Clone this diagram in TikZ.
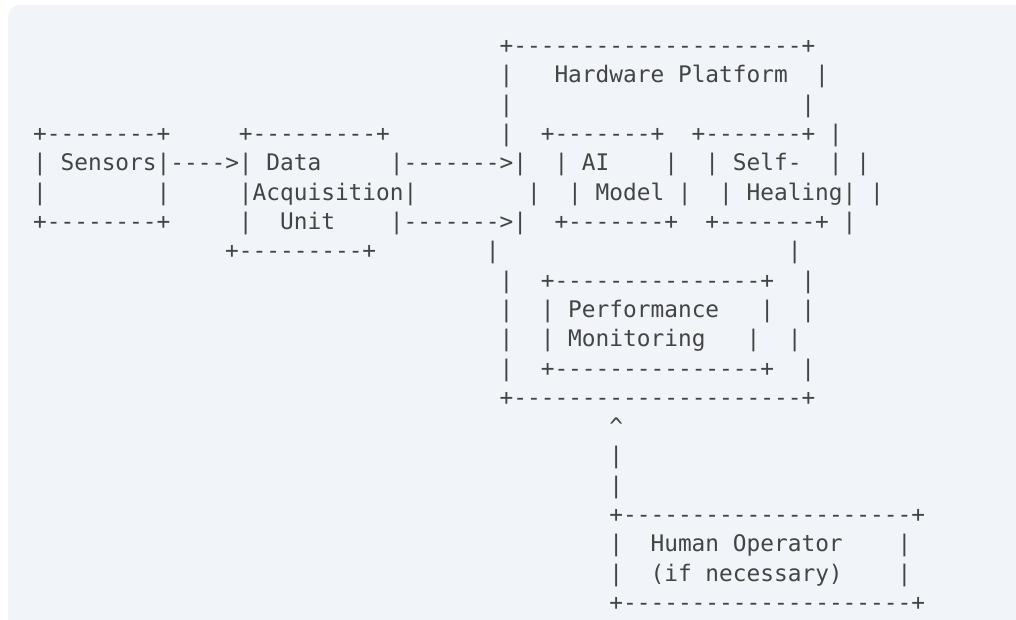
\documentclass[tikz,border=0pt]{standalone}
\usepackage{fontspec}
\setmonofont{DejaVu Sans Mono}
\definecolor{panel}{HTML}{F1F4F8}
\definecolor{ink}{HTML}{444444}
\def\xo{33.14}
\def\cw{13.72}
\def\yo{53.5}
\def\lh{29.32}
\newcommand\seg[4]{\node[seg] (#1) at ({\xo+\cw*(#2)},{-(\yo+\lh*(#3))}) {#4};}
\begin{document}
\begin{tikzpicture}[x=1pt,y=1pt,
  seg/.style={anchor=base west, inner sep=0pt, outer sep=0pt, text=ink,
              font=\ttfamily\fontsize{22.8}{27}\selectfont}]
\useasboundingbox (0,0) rectangle (1016,-620);
\fill[white] (0,0) rectangle (1016,-620);
\fill[panel, rounded corners=12] (8,-5) rectangle (1040,-650);
% line 0
\seg{hwtop}{34}{0}{+---------------------+}
% line 1
\seg{hwl1}{34}{1}{|}\seg{hwtitle}{38}{1}{Hardware Platform}\seg{hwr1}{57}{1}{|}
% line 2
\seg{hwl2}{34}{2}{|}\seg{hwr2}{56}{2}{|}
% line 3
\seg{sentop}{0}{3}{+--------+}\seg{daqtop}{15}{3}{+---------+}
\seg{hwl3}{34}{3}{|}\seg{aitop}{37}{3}{+-------+}\seg{shtop}{48}{3}{+-------+}\seg{hwr3}{58}{3}{|}
% line 4
\seg{senl4}{0}{4}{|}\seg{sentext}{2}{4}{Sensors}\seg{arrowA}{9}{4}{|---->|}
\seg{daqtext1}{17}{4}{Data}\seg{arrowB}{26}{4}{|------->|}
\seg{ail4}{38}{4}{|}\seg{aitext1}{40}{4}{AI}\seg{air4}{46}{4}{|}
\seg{shl4}{49}{4}{|}\seg{shtext1}{51}{4}{Self-}\seg{shr4}{58}{4}{|}\seg{hwr4}{60}{4}{|}
% line 5
\seg{senl5}{0}{5}{|}\seg{senr5}{9}{5}{|}\seg{daqtext2}{15}{5}{|Acquisition|}
\seg{hwl5}{36}{5}{|}\seg{ail5}{39}{5}{|}\seg{aitext2}{41}{5}{Model}\seg{air5}{47}{5}{|}
\seg{shl5}{50}{5}{|}\seg{shtext2}{52}{5}{Healing|}\seg{hwr5}{61}{5}{|}
% line 6
\seg{senbot}{0}{6}{+--------+}\seg{daql6}{15}{6}{|}\seg{daqtext3}{18}{6}{Unit}
\seg{arrowC}{26}{6}{|------->|}\seg{aibot}{38}{6}{+-------+}\seg{shbot}{49}{6}{+-------+}\seg{hwr6}{59}{6}{|}
% line 7
\seg{daqbot}{14}{7}{+---------+}\seg{hwl7}{33}{7}{|}\seg{hwr7}{55}{7}{|}
% line 8
\seg{hwl8}{34}{8}{|}\seg{pmtop}{37}{8}{+---------------+}\seg{hwr8}{56}{8}{|}
% line 9
\seg{hwl9}{34}{9}{|}\seg{pml9}{37}{9}{|}\seg{pmtext1}{39}{9}{Performance}\seg{pmr9}{53}{9}{|}\seg{hwr9}{56}{9}{|}
% line 10
\seg{hwl10}{34}{10}{|}\seg{pml10}{37}{10}{|}\seg{pmtext2}{39}{10}{Monitoring}\seg{pmr10}{52}{10}{|}\seg{hwr10}{55}{10}{|}
% line 11
\seg{hwl11}{34}{11}{|}\seg{pmbot}{37}{11}{+---------------+}\seg{hwr11}{56}{11}{|}
% line 12
\seg{hwbot}{34}{12}{+---------------------+}
% lines 13-15
\seg{up}{42}{13}{\textasciicircum}
\seg{shaft1}{42}{14}{|}
\seg{shaft2}{42}{15}{|}
% lines 16-19
\seg{hotop}{42}{16}{+---------------------+}
\seg{hol17}{42}{17}{|}\seg{hotext1}{45}{17}{Human Operator}\seg{hor17}{63}{17}{|}
\seg{hol18}{42}{18}{|}\seg{hotext2}{45}{18}{(if necessary)}\seg{hor18}{63}{18}{|}
\seg{hobot}{42}{19}{+---------------------+}
\end{tikzpicture}
\end{document}
